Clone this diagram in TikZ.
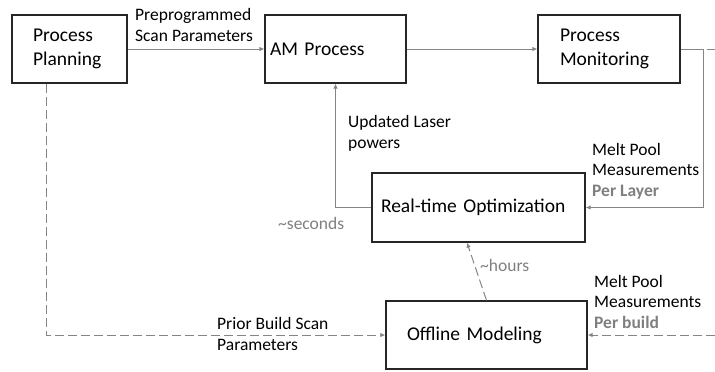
\documentclass[tikz,border=0pt]{standalone}
\usepackage{fontspec}
\setmainfont{Carlito}
\usetikzlibrary{arrows.meta}
\definecolor{boxc}{HTML}{262626}
\definecolor{connc}{HTML}{858585}
\definecolor{labgray}{HTML}{7F7F7F}
\begin{document}
\begin{tikzpicture}[x=1pt,y=-1pt,
  box/.style={draw=boxc, line width=1.2pt, minimum height=68pt, inner ysep=0pt,
    align=left, font=\fontsize{19.5}{24}\selectfont, text=black},
  lab/.style={anchor=base west, inner sep=0pt, align=left,
    font=\fontsize{17.5}{20.5}\selectfont, text=black},
  glab/.style={lab, text=labgray},
  conn/.style={draw=connc, line width=1pt, -{Latex[length=5pt,width=4.5pt]}},
  dconn/.style={conn, dash pattern=on 9pt off 4pt},
]
\useasboundingbox (0,0) rectangle (715,372);

% boxes
\node[box, inner xsep=21pt, text width=73pt] (PP) at (69.5,49) {Process\\Planning};
\node[box, inner xsep=5pt, text width=131pt] (AM) at (335.5,49) {AM Process};
\node[box, inner xsep=22pt, text width=98pt] (PM) at (609,49) {Process\\Monitoring};
\node[box, inner xsep=9pt, text width=195pt, minimum height=69pt] (RTO) at (478.5,207.5) {Real-time Optimization};
\node[box, inner xsep=21pt, text width=159pt] (OM) at (486.5,335) {Offline Modeling};

% free ends
\coordinate (c1) at (703,49);
\coordinate (rtop) at (715,49);
\coordinate (rbot) at (715,335);

% connectors
\draw[conn] (PP.east) -- (AM.west);
\draw[conn] (AM.east) -- (PM.west);
\draw[conn] (PM.east) -- (c1) |- (RTO.east);
\draw[draw=connc, line width=1pt, dash pattern=on 9pt off 4pt, dash phase=9pt] (c1) -- (rtop);
\draw[conn] (RTO.west) -| (AM.south);
\draw[dconn] (OM.north) -- ([xshift=-11.5pt]RTO.south);
\draw[dconn] (PP.south west) ++(35,0) |- (OM.west);
\draw[dconn] (rbot) -- (OM.east);

% labels (base anchor = baseline of last line)
\node[lab] (l1) at (135,41) {Preprogrammed\\Scan Parameters};
\node[lab] (l2) at (348,148) {Updated Laser\\powers};
\node[lab] (l3) at (592,196) {Melt Pool\\Measurements\\{\bfseries\color{labgray}Per Layer}};
\node[glab] (l4) at (278,229) {\textasciitilde seconds};
\node[glab] (l5) at (480,271) {\textasciitilde hours};
\node[lab] (l6) at (217,350) {Prior Build Scan\\Parameters};
\node[lab] (l7) at (594,328) {Melt Pool\\Measurements\\{\bfseries\color{labgray}Per build}};
\end{tikzpicture}
\end{document}
